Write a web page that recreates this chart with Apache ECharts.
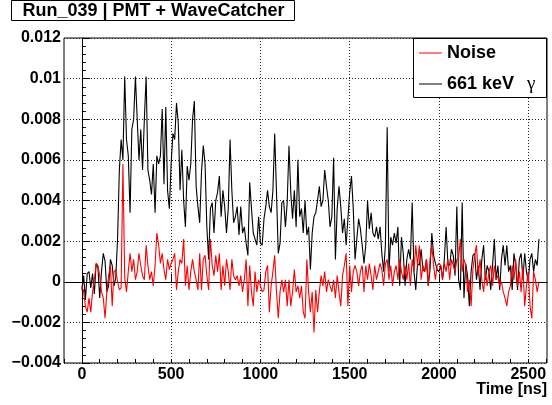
<!DOCTYPE html>
<html>
<head>
<meta charset="utf-8">
<title>Run_039 | PMT + WaveCatcher</title>
<script src="https://cdn.jsdelivr.net/npm/echarts@6/dist/echarts.min.js"></script>
<style>
  html, body { margin: 0; padding: 0; background: #fff; }
  #chart { width: 552px; height: 405px; }
</style>
</head>
<body>
<div id="chart"></div>
<script>
// one value every sampleStep ns, starting at t = 0
const sampleStep = 10

// 661 keV gamma pulse (black)
const gammaTrace = [
  -0.0004, 0.0003, -0.0009, 0.0004, 0.0005, -0.0003, 0.0004, -0.0006, 0.0009, 0.0007,
  -0.0008, 0.0005, 0.0014, 0.0010, -0.0005, -0.0002, 0.0011, 0.0008, -0.0002, 0.0002,
  0.0021, 0.0055, 0.0070, 0.0060, 0.0101, 0.0070, 0.0062, 0.0034, 0.0075, 0.0080,
  0.0101, 0.0080, 0.0060, 0.0075, 0.0055, 0.0080, 0.0101, 0.0055, 0.0050, 0.0043,
  0.0058, 0.0034, 0.0062, 0.0058, 0.0062, 0.0085, 0.0048, 0.0086, 0.0045, 0.0036,
  0.0058, 0.0073, 0.0070, 0.0088, 0.0078, 0.0045, 0.0065, 0.0040, 0.0027, 0.0057,
  0.0050, 0.0058, 0.0080, 0.0089, 0.0047, 0.0037, 0.0029, 0.0054, 0.0067, 0.0058,
  0.0027, 0.0011, 0.0036, 0.0039, 0.0024, 0.0040, 0.0044, 0.0052, 0.0032, 0.0045,
  0.0037, 0.0024, 0.0036, 0.0070, 0.0045, 0.0029, 0.0032, 0.0037, 0.0023, 0.0037,
  0.0024, 0.0027, 0.0019, 0.0013, 0.0049, 0.0036, 0.0024, 0.0021, 0.0018, 0.0032,
  0.0019, 0.0018, 0.0031, 0.0037, 0.0045, 0.0037, 0.0034, 0.0045, 0.0073, 0.0044,
  0.0014, 0.0019, 0.0039, 0.0040, 0.0027, 0.0039, 0.0067, 0.0044, 0.0031, 0.0045,
  0.0027, 0.0060, 0.0032, 0.0036, 0.0024, 0.0040, 0.0023, 0.0027, 0.0006, 0.0024,
  0.0032, 0.0034, 0.0040, 0.0047, 0.0037, 0.0040, 0.0055, 0.0047, 0.0040, 0.0027,
  0.0032, 0.0061, 0.0011, 0.0036, 0.0047, 0.0037, 0.0024, 0.0031, 0.0018, 0.0031,
  0.0044, 0.0052, 0.0036, 0.0011, 0.0021, 0.0031, 0.0026, 0.0018, 0.0009, 0.0018,
  0.0040, 0.0026, 0.0034, 0.0024, 0.0022, 0.0027, 0.0021, 0.0027, 0.0014, 0.0005,
  0.0018, 0.0076, 0.0005, 0.0022, 0.0018, 0.0024, 0.0019, 0.0027, -0.0002, 0.0022,
  0.0014, -0.0002, 0.0011, 0.0016, 0.0011, 0.0039, 0.0005, -0.0004, 0.0009, 0.0008,
  0.0016, 0.0006, 0.0005, 0.0011, -0.0002, 0.0006, 0.0024, 0.0013, 0.0009, 0.0006,
  0.0005, 0.0008, 0.0001, 0.0011, 0.0027, 0.0009, 0.0008, 0.0016, 0.0013, 0.0003,
  0.0037, 0.0001, -0.0004, 0.0039, -0.0008, 0.0009, 0.0003, -0.0012, 0.0005, 0.0013,
  0.0014, 0.0001, 0.0008, -0.0004, 0.0011, 0.0018, 0.0001, 0.0008, 0.0005, -0.0004,
  0.0008, 0.0021, 0.0001, 0.0008, -0.0004, 0.0011, 0.0018, 0.0008, 0.0018, 0.0005,
  0.0008, -0.0004, 0.0014, 0.0008, -0.0004, 0.0011, 0.0014, 0.0001, 0.0014, 0.0005,
  0.0000, 0.0011, 0.0014, 0.0005, 0.0011, 0.0008, 0.0021
]

// noise trace (red)
const noiseTrace = [
  -0.0002, -0.0005, -0.0012, -0.0015, -0.0008, -0.0015, -0.0005, 0.0001, 0.0009, 0.0008,
  0.0003, -0.0005, -0.0008, -0.0018, -0.0005, 0.0003, 0.0008, -0.0012, 0.0005, 0.0006,
  0.0000, -0.0004, -0.0003, 0.0058, 0.0002, -0.0005, 0.0005, 0.0014, 0.0005, 0.0011,
  0.0001, 0.0005, 0.0014, 0.0008, 0.0003, 0.0001, 0.0018, 0.0008, 0.0001, 0.0005,
  -0.0002, 0.0008, 0.0024, 0.0018, 0.0009, 0.0014, 0.0006, 0.0001, 0.0011, 0.0006,
  0.0009, 0.0011, 0.0014, -0.0004, 0.0005, 0.0011, 0.0009, 0.0021, -0.0002, 0.0008,
  -0.0004, 0.0005, 0.0011, 0.0005, 0.0001, -0.0004, 0.0014, -0.0004, 0.0011, 0.0013,
  0.0003, -0.0004, 0.0021, 0.0008, 0.0003, 0.0013, 0.0005, 0.0014, -0.0004, 0.0008,
  -0.0002, 0.0011, 0.0005, -0.0004, 0.0011, 0.0003, 0.0001, 0.0003, -0.0002, 0.0003,
  -0.0005, 0.0001, 0.0011, -0.0012, 0.0008, -0.0005, -0.0012, 0.0005, -0.0005, 0.0001,
  -0.0002, -0.0005, -0.0004, 0.0005, 0.0008, -0.0015, -0.0002, 0.0005, 0.0013, -0.0005,
  -0.0018, -0.0005, 0.0001, -0.0005, 0.0001, -0.0012, 0.0001, -0.0012, -0.0005, 0.0006,
  -0.0005, -0.0002, -0.0008, -0.0002, -0.0015, -0.0018, 0.0011, -0.0005, -0.0015, -0.0005,
  -0.0025, -0.0004, -0.0015, -0.0005, 0.0003, -0.0002, 0.0005, -0.0005, 0.0001, -0.0002,
  -0.0005, 0.0001, -0.0008, 0.0003, -0.0005, -0.0012, 0.0003, 0.0008, 0.0014, -0.0012,
  0.0008, -0.0005, 0.0005, 0.0008, 0.0005, -0.0002, 0.0005, 0.0008, -0.0005, 0.0008,
  0.0001, 0.0009, 0.0003, -0.0004, 0.0008, 0.0001, 0.0005, 0.0009, 0.0006, -0.0002,
  0.0009, 0.0011, 0.0001, 0.0008, -0.0002, 0.0005, 0.0008, 0.0001, 0.0011, 0.0005,
  0.0001, 0.0008, 0.0001, 0.0009, -0.0002, 0.0011, 0.0005, 0.0018, 0.0008, 0.0018,
  0.0001, 0.0008, 0.0005, 0.0011, -0.0002, 0.0011, 0.0018, 0.0008, 0.0001, 0.0008,
  0.0009, 0.0008, 0.0001, 0.0009, 0.0005, 0.0011, 0.0001, 0.0011, 0.0008, 0.0005,
  0.0011, 0.0012, 0.0021, 0.0005, 0.0011, 0.0008, -0.0005, 0.0001, -0.0012, 0.0006,
  0.0013, 0.0018, 0.0003, 0.0011, 0.0001, -0.0005, 0.0005, -0.0002, 0.0005, 0.0008,
  -0.0002, 0.0008, 0.0001, 0.0003, -0.0002, 0.0000, -0.0005, -0.0008, -0.0012, -0.0005,
  -0.0002, 0.0008, 0.0001, 0.0011, -0.0002, 0.0005, -0.0005, 0.0008, -0.0012, -0.0002,
  0.0005, -0.0012, -0.0018, 0.0005, 0.0001, -0.0005, 0.0000
]

const xMajorTicks = [0, 500, 1000, 1500, 2000, 2500]
const xMinorTicks = [
  -100, 0, 100, 200, 300, 400, 500, 600, 700, 800, 900, 1000, 1100, 1200,
  1300, 1400, 1500, 1600, 1700, 1800, 1900, 2000, 2100, 2200, 2300, 2400, 2500, 2600
]
const yTickLabels = ['\u22120.004', '\u22120.002', '0', '0.002', '0.004', '0.006', '0.008', '0.01', '0.012']

const yMin = -0.004
const yMax = 0.012
const yStep = 0.002

const font = '"Liberation Sans", Arial, Helvetica, sans-serif'

const chart = echarts.init(document.getElementById('chart'))

chart.setOption({
  animation: false,
  backgroundColor: '#fff',
  grid: {
    left: 64,
    right: 5,
    top: 38,
    bottom: 42,
    show: true,
    borderColor: '#000',
    borderWidth: 1
  },
  legend: {
    data: ['Noise', '661 keV γ'],
    orient: 'vertical',
    left: 419,
    top: 43,
    padding: 0,
    itemWidth: 23,
    itemHeight: 1,
    itemGap: 11,
    icon: 'rect',
    selectedMode: false,
    z: 10,
    formatter: name => (name === '661 keV γ' ? '661 keV {g|γ}' : name),
    textStyle: {
      fontFamily: font,
      fontSize: 18,
      fontWeight: 'bold',
      color: '#000',
      lineHeight: 20,
      rich: {
        g: {
          fontFamily: '"Liberation Serif", "DejaVu Serif", serif',
          fontWeight: 'normal',
          fontSize: 19,
          color: '#000',
          lineHeight: 20,
          padding: [0, 0, 0, 8]
        }
      }
    }
  },
  graphic: [
    {
      type: 'rect',
      z: 10,
      shape: { x: 11.5, y: 0.5, width: 283, height: 20 },
      style: { fill: '#fff', stroke: '#000', lineWidth: 1 }
    },
    {
      type: 'text',
      z: 11,
      x: 153.5,
      y: 11,
      style: {
        text: 'Run_039 | PMT + WaveCatcher',
        font: 'bold 18px ' + font,
        fill: '#000',
        align: 'center',
        verticalAlign: 'middle'
      }
    },
    {
      type: 'rect',
      z: 5,
      shape: { x: 413.5, y: 38.5, width: 133, height: 59 },
      style: { fill: '#fff', stroke: '#000', lineWidth: 1 }
    },
    {
      type: 'text',
      x: 547,
      y: 390,
      style: {
        text: 'Time [ns]',
        font: 'bold 16px ' + font,
        fill: '#000',
        align: 'right',
        verticalAlign: 'middle'
      }
    }
  ],
  xAxis: [
    {
      type: 'value',
      position: 'bottom',
      min: -100,
      max: 2605,
      axisLine: { show: true, lineStyle: { color: '#000', width: 1 } },
      axisTick: {
        show: true,
        inside: true,
        length: 8,
        customValues: xMajorTicks,
        lineStyle: { color: '#000' }
      },
      axisLabel: {
        customValues: xMajorTicks,
        margin: 4,
        color: '#000',
        fontFamily: font,
        fontSize: 16,
        fontWeight: 'bold',
        formatter: v => String(v)
      },
      splitLine: { show: true, lineStyle: { color: '#222', width: 1, type: [1, 2] } }
    },
    {
      type: 'value',
      position: 'bottom',
      min: -100,
      max: 2605,
      axisLine: { show: false },
      axisTick: {
        show: true,
        inside: true,
        length: 4,
        customValues: xMinorTicks,
        lineStyle: { color: '#000' }
      },
      axisLabel: { show: false },
      splitLine: { show: false }
    }
  ],
  yAxis: {
    type: 'value',
    min: yMin,
    max: yMax,
    interval: yStep,
    axisLine: { show: true, lineStyle: { color: '#000', width: 1 } },
    axisTick: { show: true, inside: true, length: 8, lineStyle: { color: '#000' } },
    minorTick: { show: true, splitNumber: 5, length: 4, lineStyle: { color: '#000' } },
    axisLabel: {
      margin: 3,
      color: '#000',
      fontFamily: font,
      fontSize: 16,
      fontWeight: 'bold',
      formatter: v => yTickLabels[Math.round((v - yMin) / yStep)] || ''
    },
    splitLine: { show: true, lineStyle: { color: '#222', width: 1, type: [1, 2] } }
  },
  series: [
    {
      name: '661 keV γ',
      type: 'line',
      xAxisIndex: 0,
      symbol: 'none',
      color: '#000',
      lineStyle: { width: 1.1, color: '#000' },
      z: 2,
      data: gammaTrace.map((v, i) => [i * sampleStep, v])
    },
    {
      name: 'Noise',
      type: 'line',
      xAxisIndex: 0,
      symbol: 'none',
      color: '#ff0000',
      lineStyle: { width: 1.1, color: '#ff0000' },
      z: 3,
      data: noiseTrace.map((v, i) => [i * sampleStep, v])
    }
  ]
})
</script>
</body>
</html>
